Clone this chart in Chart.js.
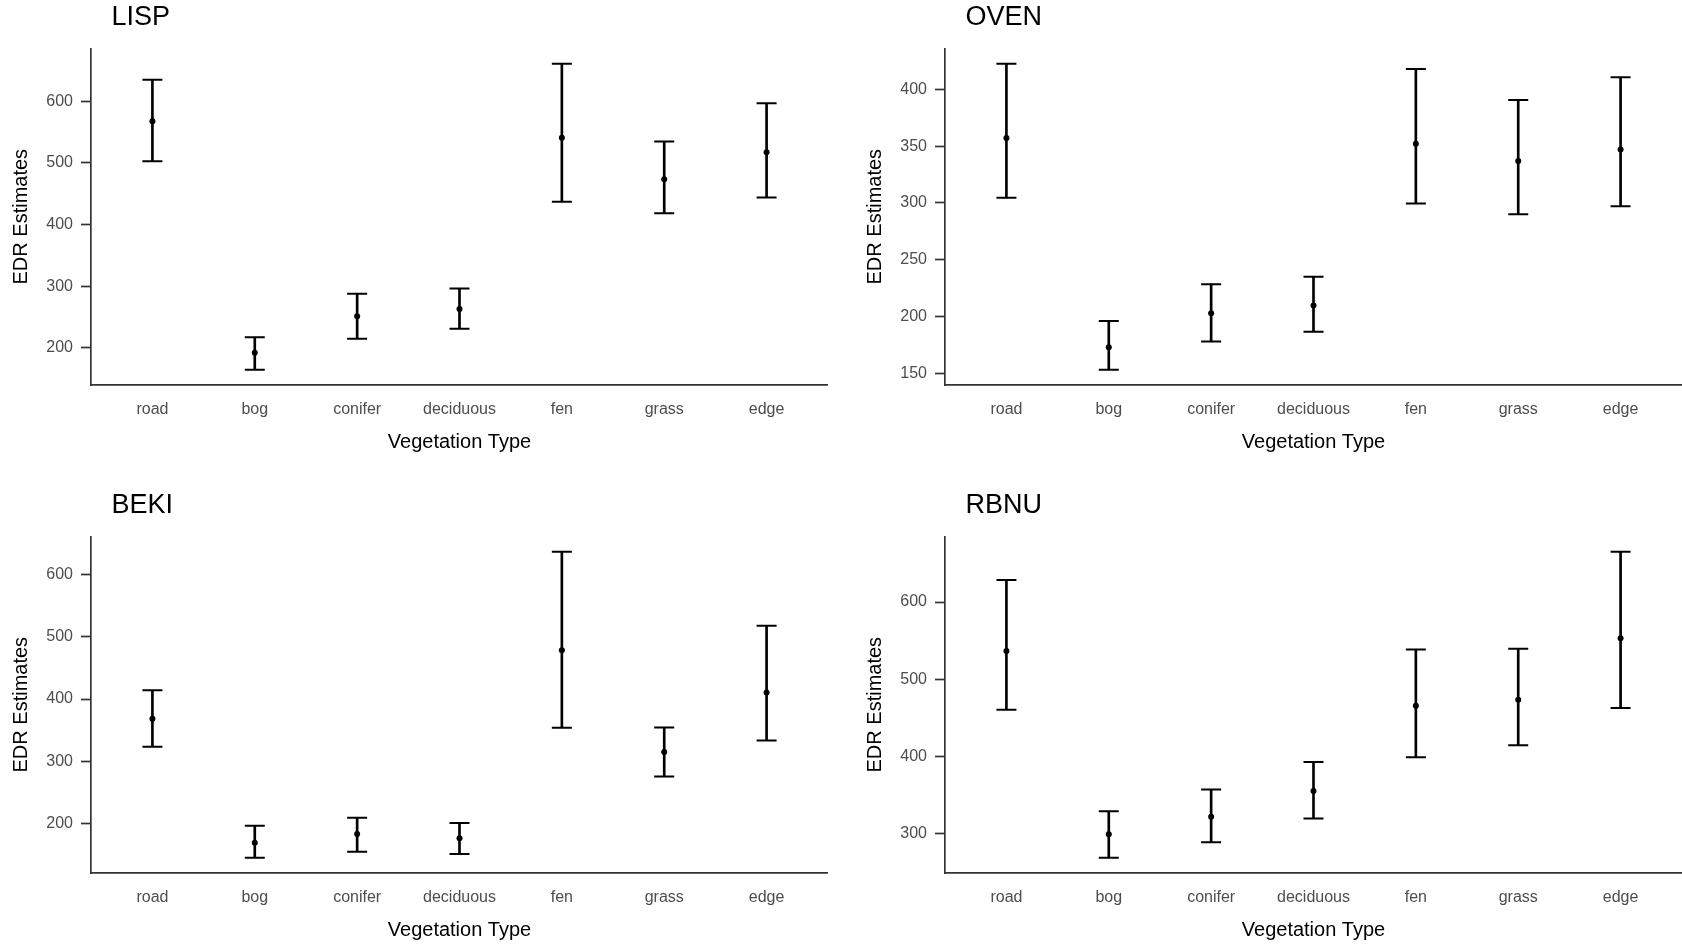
<!DOCTYPE html>
<html><head><meta charset="utf-8">
<script src="https://cdn.jsdelivr.net/npm/chart.js@4.4.1/dist/chart.umd.min.js"></script>
<style>
html,body{margin:0;padding:0;background:#fff;width:1682px;height:945px;overflow:hidden;}
.p{position:absolute;width:828px;height:457px;}
canvas{display:block;}
</style></head><body>
<div class="p" style="left:0;top:0"><canvas id="c0" width="828" height="457"></canvas></div>
<div class="p" style="left:854px;top:0"><canvas id="c1" width="828" height="457"></canvas></div>
<div class="p" style="left:0;top:488px"><canvas id="c2" width="828" height="457"></canvas></div>
<div class="p" style="left:854px;top:488px"><canvas id="c3" width="828" height="457"></canvas></div>
<script>
const categories = ['road','bog','conifer','deciduous','fen','grass','edge'];

const lispMean  = [567.6, 192.0, 251.0, 262.7, 541.0, 473.5, 517.3];
const lispLower = [502.7, 164.3, 214.6, 230.8, 437.0, 418.4, 443.8];
const lispUpper = [635.0, 216.8, 287.6, 296.0, 661.0, 534.6, 596.8];
const lispTicks = [200, 300, 400, 500, 600];

const ovenMean  = [357.2, 172.9, 203.0, 209.8, 352.2, 337.0, 347.0];
const ovenLower = [304.5, 153.2, 178.1, 186.6, 299.5, 290.1, 297.1];
const ovenUpper = [422.6, 196.0, 228.5, 235.0, 417.9, 390.6, 410.6];
const ovenTicks = [150, 200, 250, 300, 350, 400];

const bekiMean  = [368.4, 168.9, 182.8, 175.9, 478.3, 314.7, 410.7];
const bekiLower = [323.3, 144.8, 154.4, 150.7, 353.9, 275.6, 333.5];
const bekiUpper = [414.0, 196.2, 209.0, 200.5, 637.0, 354.4, 518.0];
const bekiTicks = [200, 300, 400, 500, 600];

const rbnuMean  = [536.4, 298.7, 321.6, 354.9, 465.5, 473.3, 552.9];
const rbnuLower = [460.4, 268.4, 288.3, 319.4, 398.7, 414.1, 462.5];
const rbnuUpper = [628.5, 328.5, 357.0, 392.5, 538.6, 539.5, 665.3];
const rbnuTicks = [300, 400, 500, 600];

Chart.defaults.font.family = '"Liberation Sans", Arial, sans-serif';

const titleShift = {
  id: 'titleShift',
  afterLayout(chart) {
    const t = chart.titleBlock;
    if (t) { t.left += 20.5; t.right += 20.5; }
  }
};

function makePanel(id, title, mean, lower, upper, ticks) {
  const lo = Math.min(...lower), hi = Math.max(...upper);
  const pad = (hi - lo) * 0.05;
  new Chart(document.getElementById(id), {
    type: 'scatter',
    data: {
      datasets: [
        { type: 'scatter', data: mean.map((v, i) => ({x: i, y: v})),
          pointRadius: 3, pointBackgroundColor: '#000', pointBorderWidth: 0, order: 0 },
        { type: 'scatter', data: upper.map((v, i) => ({x: i, y: v})),
          pointStyle: 'line', pointRadius: 10, pointBorderColor: '#000', pointBorderWidth: 2, order: 1 },
        { type: 'scatter', data: lower.map((v, i) => ({x: i, y: v})),
          pointStyle: 'line', pointRadius: 10, pointBorderColor: '#000', pointBorderWidth: 2, order: 1 },
        { type: 'bar', data: lower.map((v, i) => ({x: i, y: [v, upper[i]]})),
          backgroundColor: '#000', borderWidth: 0, barThickness: 2, order: 2 }
      ]
    },
    options: {
      responsive: false,
      animation: false,
      devicePixelRatio: 1,
      events: [],
      layout: { padding: 0, autoPadding: false },
      plugins: {
        legend: { display: false },
        tooltip: { enabled: false },
        title: { display: true, text: title, align: 'start', fullSize: false, color: '#000',
                 font: { size: 27, weight: 'normal' }, padding: { top: 1, bottom: 15 } }
      },
      scales: {
        x: {
          type: 'linear', min: -0.6, max: 6.6, bounds: 'data', offset: false,
          afterBuildTicks: s => { s.ticks = categories.map((c, i) => ({value: i})); },
          afterFit: s => { s.height = 72; },
          ticks: { callback: v => categories[v], color: '#4d4d4d', font: { size: 16 },
                   padding: 15, autoSkip: false, maxRotation: 0 },
          grid: { display: false, drawTicks: false, offset: false },
          border: { display: true, color: '#333', width: 1.7 },
          title: { display: true, text: 'Vegetation Type', color: '#000', font: { size: 20 },
                   padding: { top: 0, bottom: 2.3 } }
        },
        y: {
          type: 'linear', min: lo - pad, max: hi + pad, bounds: 'data',
          afterBuildTicks: s => { s.ticks = ticks.map(v => ({value: v})); },
          afterFit: s => { s.width = 91; },
          ticks: { color: '#4d4d4d', font: { size: 16 }, padding: 8 },
          grid: { drawOnChartArea: false, drawTicks: true, tickLength: 10, tickColor: '#333', tickWidth: 1.7 },
          border: { display: true, color: '#333', width: 1.7 },
          title: { display: true, text: 'EDR Estimates', color: '#000', font: { size: 20 },
                   padding: { top: 9, bottom: 0 } }
        }
      }
    },
    plugins: [titleShift]
  });
}

makePanel('c0', 'LISP', lispMean, lispLower, lispUpper, lispTicks);
makePanel('c1', 'OVEN', ovenMean, ovenLower, ovenUpper, ovenTicks);
makePanel('c2', 'BEKI', bekiMean, bekiLower, bekiUpper, bekiTicks);
makePanel('c3', 'RBNU', rbnuMean, rbnuLower, rbnuUpper, rbnuTicks);
</script>
</body></html>
